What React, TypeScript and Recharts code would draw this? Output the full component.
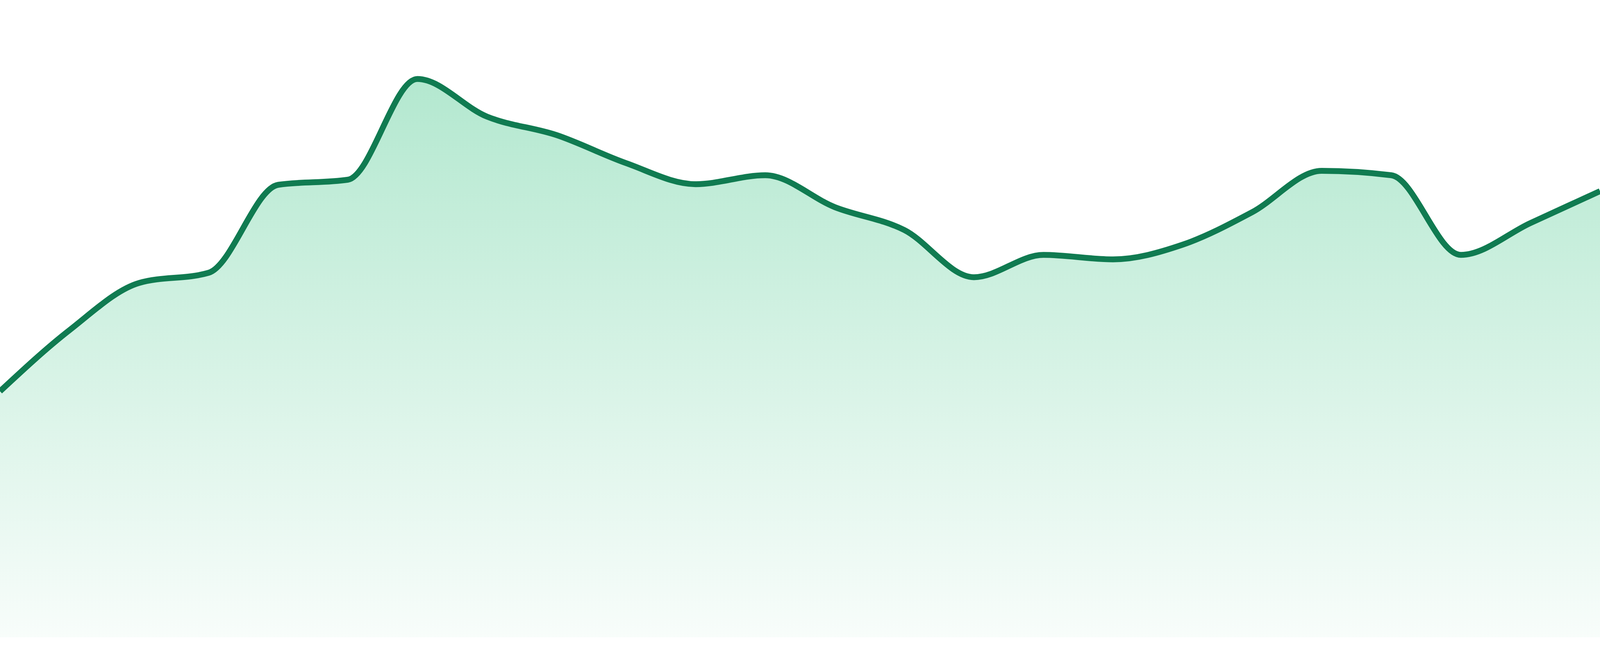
import React from "react";
import { AreaChart, Area, XAxis, YAxis } from "recharts";

// 24 evenly spaced samples (0-100 scale)
const days = [
  "D1", "D2", "D3", "D4", "D5", "D6", "D7", "D8", "D9", "D10", "D11", "D12",
  "D13", "D14", "D15", "D16", "D17", "D18", "D19", "D20", "D21", "D22", "D23", "D24",
];

const values = [
  38.6, 48.2, 55.6, 57.2, 71.0, 71.8, 87.6, 81.7, 78.8, 74.4, 71.1, 72.5,
  67.5, 63.9, 56.5, 60.0, 59.3, 61.6, 66.7, 73.2, 72.5, 60.0, 65.0, 70.0,
];

const data = days.map((day, i) => ({ day, value: values[i] }));

// the chart fills the whole window (it may be narrower than 4800);
// vertical sizes were measured on a 1680px tall shot
const W = typeof window !== "undefined" && window.innerWidth ? window.innerWidth : 4800;
const H = typeof window !== "undefined" && window.innerHeight ? window.innerHeight : 1680;
const kv = H / 1680;

export default function App() {
  return (
    <div style={{ position: "fixed", left: 0, top: 0, width: W, height: H, background: "#fff" }}>
      <AreaChart width={W} height={H} data={data} margin={{ top: 0, right: 0, bottom: 48 * kv, left: 0 }}>
        <defs>
          <linearGradient id="areaFill" x1="0" y1="0" x2="0" y2="1">
            <stop offset="0%" stopColor="#12b76a" stopOpacity={0.32} />
            <stop offset="100%" stopColor="#12b76a" stopOpacity={0.03} />
          </linearGradient>
        </defs>
        <XAxis dataKey="day" hide />
        <YAxis hide domain={[0, 100]} />
        <Area
          type="monotone"
          dataKey="value"
          stroke="#107b51"
          strokeWidth={15 * kv}
          fill="url(#areaFill)"
          fillOpacity={1}
          dot={false}
          activeDot={false}
          isAnimationActive={false}
        />
      </AreaChart>
    </div>
  );
}
